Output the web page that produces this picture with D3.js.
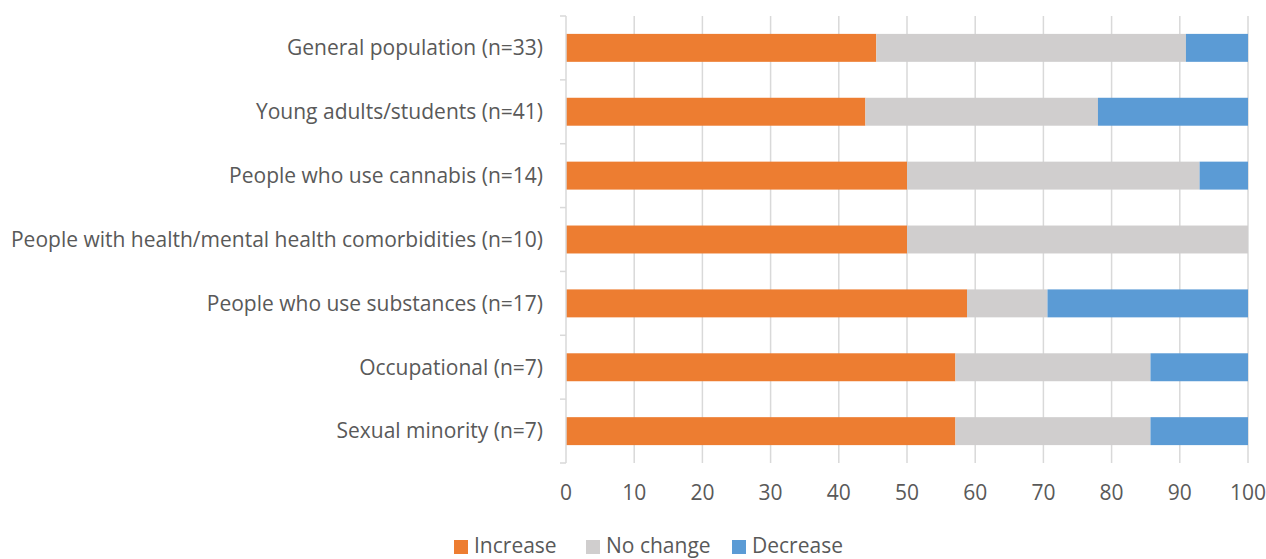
<!DOCTYPE html>
<html>
<head>
<meta charset="utf-8">
<script src="https://cdn.jsdelivr.net/npm/d3@7"></script>
<style>
  body { margin: 0; background: #fff; }
  svg text { font-family: "Open Sans", sans-serif; fill: #595959; }
</style>
</head>
<body>
<svg id="chart" width="1266" height="559"></svg>
<script>
// data (percent of studies)
const groups = [
  'General population (n=33)',
  'Young adults/students (n=41)',
  'People who use cannabis (n=14)',
  'People with health/mental health comorbidities (n=10)',
  'People who use substances (n=17)',
  'Occupational (n=7)',
  'Sexual minority (n=7)'
];
const increase = [45.5, 43.9, 50.0, 50.0, 58.8, 57.1, 57.1];
const noChange = [45.4, 34.1, 42.9, 50.0, 11.8, 28.6, 28.6];
const decrease = [9.1, 22.0, 7.1, 0.0, 29.4, 14.3, 14.3];
const seriesNames = ['Increase', 'No change', 'Decrease'];
const xTicks = [0, 10, 20, 30, 40, 50, 60, 70, 80, 90, 100];

const colors = ['#ED7D31', '#D0CECE', '#5B9BD5'];

const rows = groups.map((g, i) => ({
  group: g, 'Increase': increase[i], 'No change': noChange[i], 'Decrease': decrease[i]
}));

const svg = d3.select('#chart');
const margin = { top: 16, right: 18, bottom: 96, left: 566 };
const width = 1266 - margin.left - margin.right;
const height = 559 - margin.top - margin.bottom;
const fontSize = '21px';

const g = svg.append('g').attr('transform', `translate(${margin.left},${margin.top})`);

const x = d3.scaleLinear().domain([0, 100]).range([0, width]);
const y = d3.scaleBand().domain(groups).range([0, height]).paddingInner(0.5625).paddingOuter(0.28);

// gridlines
g.selectAll('.grid')
  .data(xTicks.filter(d => d > 0))
  .join('line')
  .attr('class', 'grid')
  .attr('x1', d => x(d)).attr('x2', d => x(d))
  .attr('y1', 0).attr('y2', height)
  .attr('stroke', '#d9d9d9')
  .attr('stroke-width', 1.5);

const stack = d3.stack().keys(seriesNames)(rows);

g.selectAll('.series')
  .data(stack)
  .join('g')
  .attr('fill', (d, i) => colors[i])
  .selectAll('rect')
  .data(d => d)
  .join('rect')
  .attr('x', d => x(d[0]))
  .attr('width', d => x(d[1]) - x(d[0]))
  .attr('y', d => y(d.data.group))
  .attr('height', y.bandwidth());

// category axis line with ticks between groups
g.append('line')
  .attr('x1', 0).attr('x2', 0).attr('y1', 0).attr('y2', height)
  .attr('stroke', '#d9d9d9').attr('stroke-width', 1.5);

const step = height / groups.length;
g.selectAll('.ytick')
  .data(d3.range(groups.length + 1))
  .join('line')
  .attr('x1', -6).attr('x2', 0)
  .attr('y1', d => d * step).attr('y2', d => d * step)
  .attr('stroke', '#d9d9d9').attr('stroke-width', 1.5);

g.selectAll('.ylabel')
  .data(groups)
  .join('text')
  .attr('x', -23)
  .attr('y', d => y(d) + y.bandwidth() / 2)
  .attr('dy', '0.35em')
  .attr('text-anchor', 'end')
  .attr('font-size', fontSize)
  .text(d => d);

g.selectAll('.xlabel')
  .data(xTicks)
  .join('text')
  .attr('x', d => x(d))
  .attr('y', height + 30)
  .attr('dy', '0.35em')
  .attr('text-anchor', 'middle')
  .attr('font-size', fontSize)
  .text(d => d);

// legend
const legendX = [454, 586, 732];
const legend = svg.append('g')
  .selectAll('g')
  .data(seriesNames)
  .join('g')
  .attr('transform', (d, i) => `translate(${legendX[i]},540)`);

legend.append('rect')
  .attr('width', 14).attr('height', 14)
  .attr('fill', (d, i) => colors[i]);

legend.append('text')
  .attr('x', 20).attr('y', 6)
  .attr('dy', '0.35em')
  .attr('font-size', fontSize)
  .text(d => d);
</script>
</body>
</html>
